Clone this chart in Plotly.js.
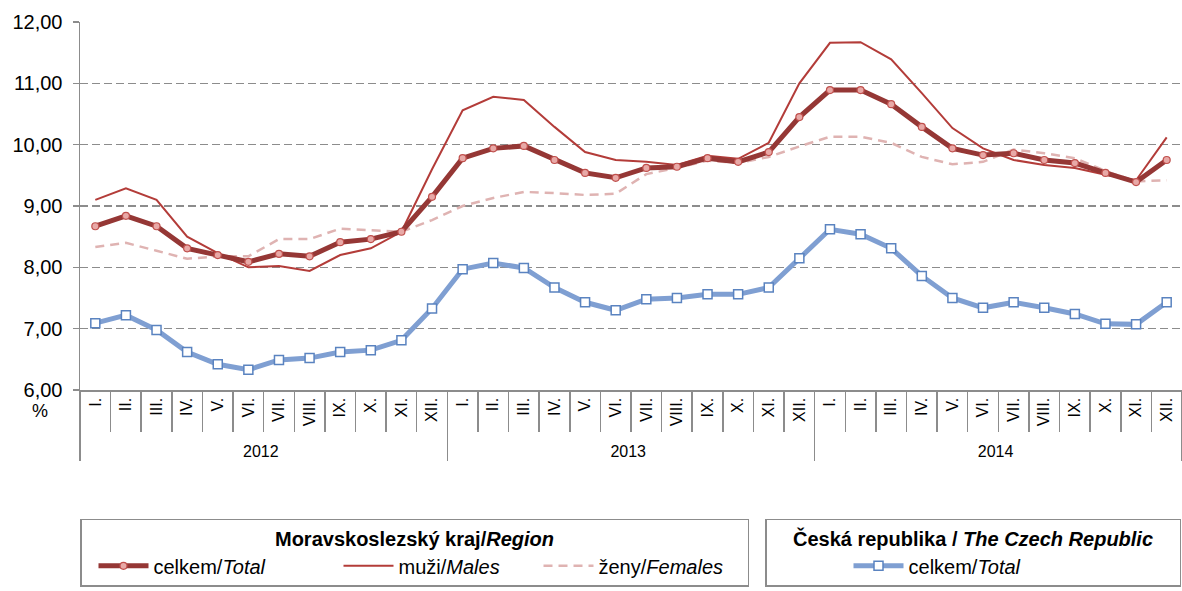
<!DOCTYPE html>
<html>
<head>
<meta charset="utf-8">
<script src="https://cdn.plot.ly/plotly-3.0.1.min.js"></script>
<style>html,body{margin:0;padding:0;background:#fff;}#chart{width:1182px;height:591px;}</style>
</head>
<body>
<div id="chart"></div>
<script>
var years = ["2012", "2013", "2014"];
var months = ["I.", "II.", "III.", "IV.", "V.", "VI.", "VII.", "VIII.", "IX.", "X.", "XI.", "XII."];

var msTotal = [
  8.67, 8.84, 8.67, 8.31, 8.20, 8.09, 8.22, 8.18, 8.41, 8.46, 8.58, 9.15,
  9.78, 9.94, 9.98, 9.75, 9.54, 9.46, 9.62, 9.64, 9.78, 9.72, 9.88, 10.45,
  10.89, 10.89, 10.66, 10.29, 9.94, 9.83, 9.86, 9.75, 9.70, 9.54, 9.39, 9.75
];
var msMales = [
  9.10, 9.29, 9.10, 8.50, 8.23, 8.00, 8.02, 7.94, 8.20, 8.31, 8.58, 9.60,
  10.56, 10.78, 10.73, 10.29, 9.88, 9.75, 9.72, 9.67, 9.82, 9.77, 10.03, 11.00,
  11.66, 11.67, 11.39, 10.84, 10.27, 9.94, 9.75, 9.67, 9.62, 9.51, 9.42, 10.12
];
var msFemales = [
  8.33, 8.40, 8.27, 8.14, 8.18, 8.18, 8.46, 8.46, 8.63, 8.61, 8.58, 8.77,
  9.00, 9.13, 9.23, 9.21, 9.18, 9.20, 9.52, 9.62, 9.74, 9.70, 9.80, 9.97,
  10.13, 10.13, 10.03, 9.80, 9.68, 9.72, 9.92, 9.86, 9.78, 9.57, 9.40, 9.42
];
var crTotal = [
  7.09, 7.22, 6.98, 6.62, 6.42, 6.33, 6.49, 6.52, 6.62, 6.65, 6.81, 7.33,
  7.97, 8.07, 7.99, 7.67, 7.43, 7.30, 7.48, 7.50, 7.56, 7.56, 7.67, 8.15,
  8.62, 8.54, 8.31, 7.86, 7.50, 7.34, 7.43, 7.34, 7.24, 7.08, 7.07, 7.43
];

var legendTitle1 = "<b>Moravskoslezský kraj/<i>Region</i></b>";
var legendTitle2 = "<b>Česká republika / <i>The Czech Republic</i></b>";
var nameTotal = "celkem/<i>Total</i>";
var nameMales = "muži/<i>Males</i>";
var nameFemales = "ženy/<i>Females</i>";

var xYear = [], xMonth = [];
years.forEach(function (y) { months.forEach(function (m) { xYear.push(y); xMonth.push(m); }); });
var X = [xYear, xMonth];

var traces = [
  { x: X, y: msFemales, type: 'scatter', mode: 'lines', name: nameFemales, legend: 'legend', legendrank: 3,
    legendwidth: 144,
    line: { color: '#dfb3b2', width: 2.5, dash: '9px,6px' }, hoverinfo: 'y' },
  { x: X, y: msMales, type: 'scatter', mode: 'lines', name: nameMales, legend: 'legend', legendrank: 2,
    legendwidth: 123,
    line: { color: '#b33c39', width: 2 }, hoverinfo: 'y' },
  { x: X, y: msTotal, type: 'scatter', mode: 'lines+markers', name: nameTotal, legend: 'legend', legendrank: 1,
    legendwidth: 168,
    line: { color: '#953735', width: 5 },
    marker: { symbol: 'circle', size: 7, color: '#e8a9a7', line: { color: '#c0504d', width: 1.2 } }, hoverinfo: 'y' },
  { x: X, y: crTotal, type: 'scatter', mode: 'lines+markers', name: nameTotal, legend: 'legend2',
    legendwidth: 266,
    line: { color: '#7f9fd2', width: 5 },
    marker: { symbol: 'square', size: 9, color: '#ffffff', line: { color: '#5a83c0', width: 1.5 } }, hoverinfo: 'y' }
];

var axisGray = '#8c8c8c';
var layout = {
  width: 1182, height: 591,
  margin: { l: 80, r: 0, t: 22, b: 201 },
  paper_bgcolor: '#ffffff', plot_bgcolor: '#ffffff',
  font: { family: '"Liberation Sans", Arial, sans-serif', color: '#000000' },
  separators: ', ',
  showlegend: true,
  xaxis: {
    type: 'multicategory', range: [-0.5, 35.5], autorange: false,
    showline: true, linecolor: axisGray, linewidth: 1.5,
    ticks: 'outside', tickson: 'boundaries', ticklen: 40, tickcolor: axisGray, tickwidth: 1.5,
    tickangle: -90, tickfont: { size: 16 },
    ticklabelstandoff: 0,
    showdividers: true, dividercolor: axisGray, dividerwidth: 1.5,
    showgrid: false, zeroline: false
  },
  yaxis: {
    range: [6, 12], tick0: 6, dtick: 1, tickformat: '.2f',
    showgrid: true, gridcolor: axisGray, gridwidth: 1.5, griddash: '8px,4px',
    showline: true, linecolor: axisGray, linewidth: 1.5,
    ticks: 'outside', ticklen: 6, tickcolor: axisGray, tickwidth: 1.5,
    ticklabelstandoff: 6,
    tickfont: { size: 20 }, zeroline: false
  },
  legend: {
    x: 0, xanchor: 'left', y: -0.35, yanchor: 'top',
    orientation: 'h', bgcolor: '#ffffff', bordercolor: axisGray, borderwidth: 1.5,
    title: { text: legendTitle1, side: 'top center', font: { size: 20 } },
    font: { size: 20 }, traceorder: 'normal',
    itemwidth: 50, indentation: 12
  },
  legend2: {
    x: 0.6216, xanchor: 'left', y: -0.35, yanchor: 'top',
    orientation: 'h', bgcolor: '#ffffff', bordercolor: axisGray, borderwidth: 1.5,
    title: { text: legendTitle2, side: 'top center', font: { size: 20 } },
    font: { size: 20 }, indentation: 82, itemwidth: 50
  },
  annotations: [
    { text: '%', xref: 'paper', yref: 'paper', x: -0.036, y: -0.057, xanchor: 'center', yanchor: 'middle',
      showarrow: false, font: { size: 18 } }
  ]
};

Plotly.newPlot('chart', traces, layout, { displayModeBar: false, staticPlot: true });
</script>
</body>
</html>
